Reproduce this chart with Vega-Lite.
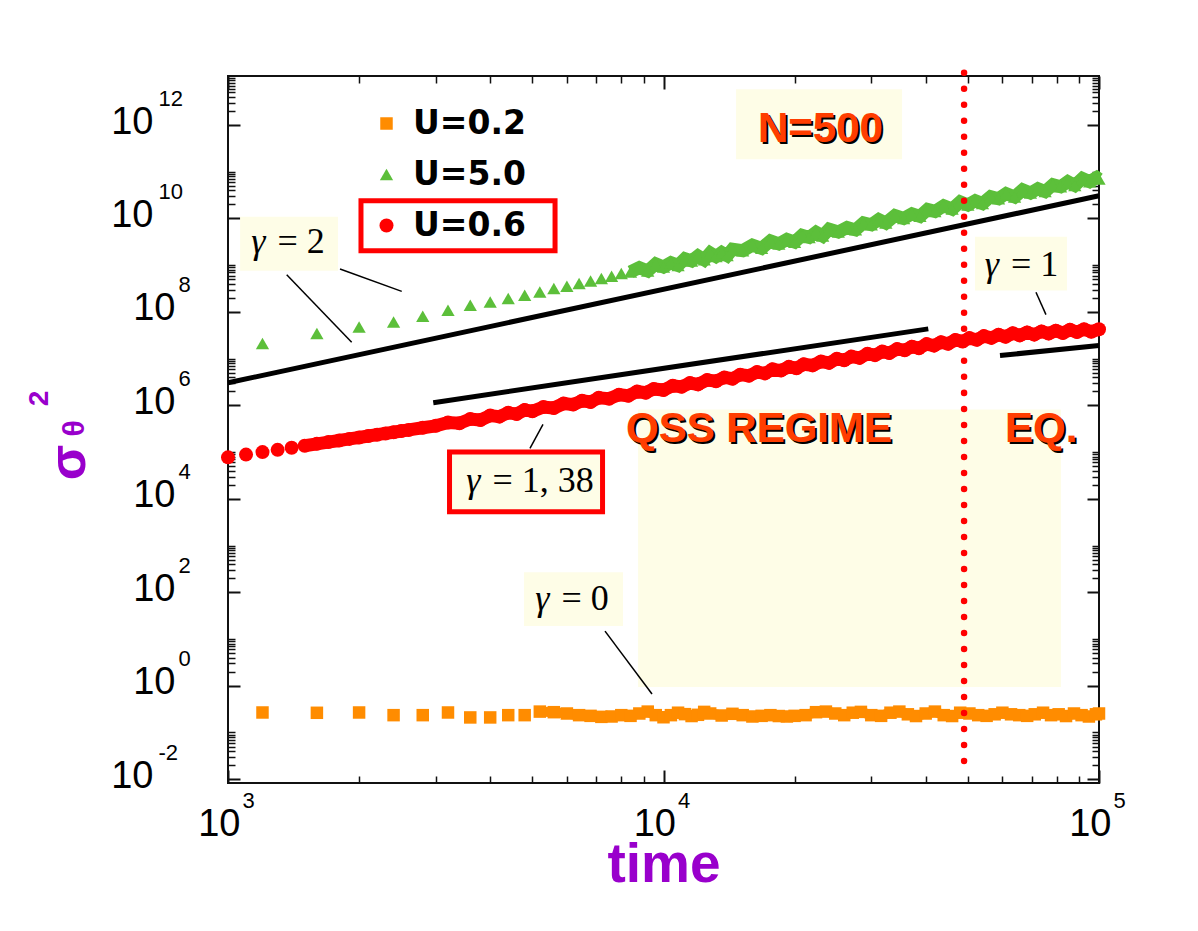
{
  "$schema": "https://vega.github.io/schema/vega-lite/v6.json",
  "width": 871,
  "height": 707,
  "autosize": {"type": "none"},
  "padding": {"left": 228, "top": 76, "right": 99, "bottom": 148},
  "background": "white",
  "config": {
    "view": {"stroke": "#111111", "strokeWidth": 2},
    "axis": {"grid": false, "domain": false, "labelFont": "Liberation Sans", "titleFont": "Liberation Sans", "labelColor": "#000000", "tickColor": "#111111", "labelFlush": false, "labelOverlap": false, "labelBound": false}
  },
  "resolve": {"axis": {"x": "independent", "y": "independent"}},
  "datasets": {
    "series": [
      {"s": "U=0.2", "t": 1200, "v": 0.268}, {"s": "U=0.2", "t": 1600, "v": 0.264}, {"s": "U=0.2", "t": 2000, "v": 0.268}, {"s": "U=0.2", "t": 2400, "v": 0.235}, {"s": "U=0.2", "t": 2800, "v": 0.235}, {"s": "U=0.2", "t": 3200, "v": 0.268}, {"s": "U=0.2", "t": 3600, "v": 0.21}, {"s": "U=0.2", "t": 4000, "v": 0.21}, {"s": "U=0.2", "t": 4400, "v": 0.235}, {"s": "U=0.2", "t": 4800, "v": 0.235},
      {"s": "U=0.2", "t": 5200, "v": 0.28}, {"s": "U=0.2", "t": 5600, "v": 0.272}, {"s": "U=0.2", "t": 6000, "v": 0.255}, {"s": "U=0.2", "t": 6400, "v": 0.235}, {"s": "U=0.2", "t": 6800, "v": 0.227}, {"s": "U=0.2", "t": 7200, "v": 0.216}, {"s": "U=0.2", "t": 7600, "v": 0.22}, {"s": "U=0.2", "t": 8000, "v": 0.235}, {"s": "U=0.2", "t": 8400, "v": 0.227}, {"s": "U=0.2", "t": 8800, "v": 0.255}, {"s": "U=0.2", "t": 9200, "v": 0.28}, {"s": "U=0.2", "t": 9600, "v": 0.235}, {"s": "U=0.2", "t": 10000, "v": 0.212}, {"s": "U=0.2", "t": 10400, "v": 0.235}, {"s": "U=0.2", "t": 10800, "v": 0.265}, {"s": "U=0.2", "t": 11200, "v": 0.247}, {"s": "U=0.2", "t": 11600, "v": 0.225}, {"s": "U=0.2", "t": 12000, "v": 0.239}, {"s": "U=0.2", "t": 12400, "v": 0.276}, {"s": "U=0.2", "t": 12800, "v": 0.255}, {"s": "U=0.2", "t": 13600, "v": 0.231}, {"s": "U=0.2", "t": 14400, "v": 0.251}, {"s": "U=0.2", "t": 15200, "v": 0.235}, {"s": "U=0.2", "t": 16000, "v": 0.22}, {"s": "U=0.2", "t": 16800, "v": 0.227}, {"s": "U=0.2", "t": 17600, "v": 0.235}, {"s": "U=0.2", "t": 18400, "v": 0.225}, {"s": "U=0.2", "t": 19200, "v": 0.22}, {"s": "U=0.2", "t": 20000, "v": 0.227}, {"s": "U=0.2", "t": 21200, "v": 0.235}, {"s": "U=0.2", "t": 22400, "v": 0.272}, {"s": "U=0.2", "t": 23600, "v": 0.28}, {"s": "U=0.2", "t": 24800, "v": 0.255}, {"s": "U=0.2", "t": 26000, "v": 0.235}, {"s": "U=0.2", "t": 27200, "v": 0.265}, {"s": "U=0.2", "t": 28400, "v": 0.276}, {"s": "U=0.2", "t": 30000, "v": 0.235}, {"s": "U=0.2", "t": 31600, "v": 0.227}, {"s": "U=0.2", "t": 33200, "v": 0.265}, {"s": "U=0.2", "t": 34800, "v": 0.28}, {"s": "U=0.2", "t": 36400, "v": 0.245}, {"s": "U=0.2", "t": 38000, "v": 0.225}, {"s": "U=0.2", "t": 40000, "v": 0.255}, {"s": "U=0.2", "t": 42000, "v": 0.28}, {"s": "U=0.2", "t": 44000, "v": 0.235}, {"s": "U=0.2", "t": 46000, "v": 0.225}, {"s": "U=0.2", "t": 48000, "v": 0.265}, {"s": "U=0.2", "t": 50400, "v": 0.255}, {"s": "U=0.2", "t": 52800, "v": 0.235}, {"s": "U=0.2", "t": 55200, "v": 0.227}, {"s": "U=0.2", "t": 57600, "v": 0.245}, {"s": "U=0.2", "t": 60000, "v": 0.265}, {"s": "U=0.2", "t": 62800, "v": 0.245}, {"s": "U=0.2", "t": 65600, "v": 0.235}, {"s": "U=0.2", "t": 68400, "v": 0.227}, {"s": "U=0.2", "t": 71200, "v": 0.245}, {"s": "U=0.2", "t": 74400, "v": 0.265}, {"s": "U=0.2", "t": 77600, "v": 0.235}, {"s": "U=0.2", "t": 80800, "v": 0.245}, {"s": "U=0.2", "t": 84000, "v": 0.225}, {"s": "U=0.2", "t": 87600, "v": 0.255}, {"s": "U=0.2", "t": 91200, "v": 0.235}, {"s": "U=0.2", "t": 94800, "v": 0.22}, {"s": "U=0.2", "t": 98400, "v": 0.245}, {"s": "U=0.2", "t": 100000, "v": 0.255},
      {"s": "U=5.0", "t": 1200, "v": 2.10e7}, {"s": "U=5.0", "t": 1600, "v": 3.45e7}, {"s": "U=5.0", "t": 2000, "v": 4.78e7}, {"s": "U=5.0", "t": 2400, "v": 6.11e7}, {"s": "U=5.0", "t": 2800, "v": 8.09e7}, {"s": "U=5.0", "t": 3200, "v": 1.09e8}, {"s": "U=5.0", "t": 3600, "v": 1.39e8}, {"s": "U=5.0", "t": 4000, "v": 1.64e8}, {"s": "U=5.0", "t": 4400, "v": 1.94e8}, {"s": "U=5.0", "t": 4800, "v": 2.28e8}, {"s": "U=5.0", "t": 5200, "v": 2.68e8}, {"s": "U=5.0", "t": 5600, "v": 3.17e8}, {"s": "U=5.0", "t": 6000, "v": 3.55e8}, {"s": "U=5.0", "t": 6400, "v": 4.06e8}, {"s": "U=5.0", "t": 6800, "v": 4.61e8}, {"s": "U=5.0", "t": 7200, "v": 5.19e8}, {"s": "U=5.0", "t": 7600, "v": 5.81e8}, {"s": "U=5.0", "t": 8000, "v": 6.64e8}, {"s": "U=5.0", "t": 8400, "v": 7.19e8},
      {"s": "U=5.0", "t": 8800, "v": 8.87e8}, {"s": "U=5.0", "t": 9200, "v": 7.51e8}, {"s": "U=5.0", "t": 9600, "v": 1.073e9}, {"s": "U=5.0", "t": 10000, "v": 9.17e8}, {"s": "U=5.0", "t": 10400, "v": 1.136e9}, {"s": "U=5.0", "t": 10800, "v": 9.9e8}, {"s": "U=5.0", "t": 11200, "v": 1.378e9}, {"s": "U=5.0", "t": 11600, "v": 1.236e9}, {"s": "U=5.0", "t": 12000, "v": 1.582e9}, {"s": "U=5.0", "t": 12400, "v": 1.31e9}, {"s": "U=5.0", "t": 12800, "v": 1.83e9}, {"s": "U=5.0", "t": 13200, "v": 1.538e9}, {"s": "U=5.0", "t": 13600, "v": 1.873e9}, {"s": "U=5.0", "t": 14000, "v": 1.605e9}, {"s": "U=5.0", "t": 14400, "v": 2.204e9}, {"s": "U=5.0", "t": 15200, "v": 2.043e9}, {"s": "U=5.0", "t": 16000, "v": 2.704e9}, {"s": "U=5.0", "t": 16800, "v": 2.304e9}, {"s": "U=5.0", "t": 17600, "v": 3.315e9}, {"s": "U=5.0", "t": 18400, "v": 2.856e9}, {"s": "U=5.0", "t": 19200, "v": 3.558e9}, {"s": "U=5.0", "t": 20000, "v": 3.118e9}, {"s": "U=5.0", "t": 20800, "v": 4.368e9}, {"s": "U=5.0", "t": 21600, "v": 3.937e9}, {"s": "U=5.0", "t": 22400, "v": 5.059e9}, {"s": "U=5.0", "t": 23200, "v": 4.212e9}, {"s": "U=5.0", "t": 24000, "v": 5.908e9}, {"s": "U=5.0", "t": 25200, "v": 5.126e9}, {"s": "U=5.0", "t": 26400, "v": 6.446e9}, {"s": "U=5.0", "t": 27600, "v": 5.708e9}, {"s": "U=5.0", "t": 28800, "v": 8.076e9}, {"s": "U=5.0", "t": 30000, "v": 7.345e9}, {"s": "U=5.0", "t": 31200, "v": 9.529e9}, {"s": "U=5.0", "t": 32400, "v": 7.989e9}, {"s": "U=5.0", "t": 34000, "v": 1.158e10}, {"s": "U=5.0", "t": 35600, "v": 1.004e10}, {"s": "U=5.0", "t": 37200, "v": 1.26e10}, {"s": "U=5.0", "t": 38800, "v": 1.11e10}, {"s": "U=5.0", "t": 40400, "v": 1.568e10}, {"s": "U=5.0", "t": 42000, "v": 1.419e10}, {"s": "U=5.0", "t": 44000, "v": 1.867e10}, {"s": "U=5.0", "t": 46000, "v": 1.587e10}, {"s": "U=5.0", "t": 48000, "v": 2.272e10}, {"s": "U=5.0", "t": 50000, "v": 1.944e10}, {"s": "U=5.0", "t": 52000, "v": 2.401e10}, {"s": "U=5.0", "t": 54000, "v": 2.087e10}, {"s": "U=5.0", "t": 56400, "v": 2.934e10}, {"s": "U=5.0", "t": 58800, "v": 2.654e10}, {"s": "U=5.0", "t": 61200, "v": 3.427e10}, {"s": "U=5.0", "t": 64000, "v": 2.887e10}, {"s": "U=5.0", "t": 66800, "v": 4.109e10}, {"s": "U=5.0", "t": 69600, "v": 3.506e10}, {"s": "U=5.0", "t": 72400, "v": 4.339e10}, {"s": "U=5.0", "t": 75200, "v": 3.763e10}, {"s": "U=5.0", "t": 78400, "v": 5.279e10}, {"s": "U=5.0", "t": 81600, "v": 4.766e10}, {"s": "U=5.0", "t": 84800, "v": 6.125e10}, {"s": "U=5.0", "t": 88000, "v": 5.095e10}, {"s": "U=5.0", "t": 91600, "v": 7.215e10}, {"s": "U=5.0", "t": 95200, "v": 6.136e10}, {"s": "U=5.0", "t": 98800, "v": 7.558e10}, {"s": "U=5.0", "t": 100000, "v": 6.989e10},
      {"s": "U=0.6", "t": 1000, "v": 7.73e4}, {"s": "U=0.6", "t": 1100, "v": 8.85e4}, {"s": "U=0.6", "t": 1200, "v": 1.0e5}, {"s": "U=0.6", "t": 1300, "v": 1.119e5}, {"s": "U=0.6", "t": 1400, "v": 1.245e5}, {"s": "U=0.6", "t": 1500, "v": 1.371e5}, {"s": "U=0.6", "t": 1600, "v": 1.503e5}, {"s": "U=0.6", "t": 1700, "v": 1.637e5}, {"s": "U=0.6", "t": 1800, "v": 1.775e5}, {"s": "U=0.6", "t": 1900, "v": 1.919e5}, {"s": "U=0.6", "t": 2000, "v": 2.061e5}, {"s": "U=0.6", "t": 2100, "v": 2.208e5}, {"s": "U=0.6", "t": 2200, "v": 2.36e5}, {"s": "U=0.6", "t": 2300, "v": 2.512e5}, {"s": "U=0.6", "t": 2400, "v": 2.667e5}, {"s": "U=0.6", "t": 2500, "v": 2.825e5}, {"s": "U=0.6", "t": 2600, "v": 2.985e5}, {"s": "U=0.6", "t": 2800, "v": 3.319e5}, {"s": "U=0.6", "t": 3000, "v": 3.656e5},
      {"s": "U=0.6", "t": 3200, "v": 4.309e5}, {"s": "U=0.6", "t": 3400, "v": 4.159e5}, {"s": "U=0.6", "t": 3600, "v": 5.109e5}, {"s": "U=0.6", "t": 3800, "v": 4.871e5}, {"s": "U=0.6", "t": 4000, "v": 6.06e5}, {"s": "U=0.6", "t": 4200, "v": 5.742e5}, {"s": "U=0.6", "t": 4400, "v": 6.955e5}, {"s": "U=0.6", "t": 4600, "v": 6.524e5}, {"s": "U=0.6", "t": 4800, "v": 8.006e5}, {"s": "U=0.6", "t": 5000, "v": 7.484e5}, {"s": "U=0.6", "t": 5300, "v": 9.233e5}, {"s": "U=0.6", "t": 5600, "v": 8.798e5}, {"s": "U=0.6", "t": 5900, "v": 1.098e6}, {"s": "U=0.6", "t": 6200, "v": 1.04e6}, {"s": "U=0.6", "t": 6500, "v": 1.26e6}, {"s": "U=0.6", "t": 6800, "v": 1.185e6}, {"s": "U=0.6", "t": 7100, "v": 1.456e6}, {"s": "U=0.6", "t": 7500, "v": 1.39e6}, {"s": "U=0.6", "t": 7900, "v": 1.696e6}, {"s": "U=0.6", "t": 8300, "v": 1.605e6}, {"s": "U=0.6", "t": 8700, "v": 1.985e6}, {"s": "U=0.6", "t": 9100, "v": 1.867e6}, {"s": "U=0.6", "t": 9500, "v": 2.248e6}, {"s": "U=0.6", "t": 10000, "v": 2.133e6}, {"s": "U=0.6", "t": 10500, "v": 2.644e6}, {"s": "U=0.6", "t": 11000, "v": 2.496e6}, {"s": "U=0.6", "t": 11500, "v": 3.008e6}, {"s": "U=0.6", "t": 12000, "v": 2.815e6}, {"s": "U=0.6", "t": 12600, "v": 3.495e6}, {"s": "U=0.6", "t": 13200, "v": 3.298e6}, {"s": "U=0.6", "t": 13800, "v": 3.975e6}, {"s": "U=0.6", "t": 14400, "v": 3.72e6}, {"s": "U=0.6", "t": 15000, "v": 4.554e6}, {"s": "U=0.6", "t": 15700, "v": 4.297e6}, {"s": "U=0.6", "t": 16400, "v": 5.168e6}, {"s": "U=0.6", "t": 17100, "v": 4.836e6}, {"s": "U=0.6", "t": 17800, "v": 5.917e6}, {"s": "U=0.6", "t": 18600, "v": 5.555e6}, {"s": "U=0.6", "t": 19400, "v": 6.689e6}, {"s": "U=0.6", "t": 20200, "v": 6.24e6}, {"s": "U=0.6", "t": 21000, "v": 7.608e6}, {"s": "U=0.6", "t": 22000, "v": 7.182e6}, {"s": "U=0.6", "t": 23000, "v": 8.671e6}, {"s": "U=0.6", "t": 24000, "v": 8.119e6}, {"s": "U=0.6", "t": 25000, "v": 9.94e6}, {"s": "U=0.6", "t": 26000, "v": 9.268e6}, {"s": "U=0.6", "t": 27000, "v": 1.107e7}, {"s": "U=0.6", "t": 28200, "v": 1.039e7}, {"s": "U=0.6", "t": 29400, "v": 1.272e7}, {"s": "U=0.6", "t": 30600, "v": 1.189e7}, {"s": "U=0.6", "t": 31800, "v": 1.42e7}, {"s": "U=0.6", "t": 33000, "v": 1.32e7}, {"s": "U=0.6", "t": 34400, "v": 1.616e7}, {"s": "U=0.6", "t": 35800, "v": 1.511e7}, {"s": "U=0.6", "t": 37200, "v": 1.804e7}, {"s": "U=0.6", "t": 38600, "v": 1.677e7}, {"s": "U=0.6", "t": 40200, "v": 2.048e7}, {"s": "U=0.6", "t": 41800, "v": 1.897e7}, {"s": "U=0.6", "t": 43400, "v": 2.25e7}, {"s": "U=0.6", "t": 45000, "v": 2.078e7}, {"s": "U=0.6", "t": 46800, "v": 2.52e7}, {"s": "U=0.6", "t": 48600, "v": 2.334e7}, {"s": "U=0.6", "t": 50400, "v": 2.756e7}, {"s": "U=0.6", "t": 52400, "v": 2.532e7}, {"s": "U=0.6", "t": 54400, "v": 3.037e7}, {"s": "U=0.6", "t": 56600, "v": 2.781e7}, {"s": "U=0.6", "t": 58800, "v": 3.253e7}, {"s": "U=0.6", "t": 61000, "v": 2.948e7}, {"s": "U=0.6", "t": 63400, "v": 3.495e7}, {"s": "U=0.6", "t": 65800, "v": 3.149e7}, {"s": "U=0.6", "t": 68400, "v": 3.634e7}, {"s": "U=0.6", "t": 71000, "v": 3.262e7}, {"s": "U=0.6", "t": 73800, "v": 3.832e7}, {"s": "U=0.6", "t": 76600, "v": 3.437e7}, {"s": "U=0.6", "t": 79600, "v": 3.957e7}, {"s": "U=0.6", "t": 82600, "v": 3.536e7}, {"s": "U=0.6", "t": 85800, "v": 4.144e7}, {"s": "U=0.6", "t": 89000, "v": 3.708e7}, {"s": "U=0.6", "t": 92400, "v": 4.25e7}, {"s": "U=0.6", "t": 96000, "v": 3.78e7}, {"s": "U=0.6", "t": 100000, "v": 4.257e7}
    ],
    "fits": [
      {"fit": "γ=2", "t": 1000, "v": 3.05e6}, {"fit": "γ=2", "t": 100000, "v": 3.06e10},
      {"fit": "γ=1.38", "t": 2960, "v": 1.14e6}, {"fit": "γ=1.38", "t": 40550, "v": 4.34e7},
      {"fit": "γ=1", "t": 59250, "v": 1.17e7}, {"fit": "γ=1", "t": 100000, "v": 1.91e7}
    ],
    "leaders": [
      {"id": "a", "t": 1364, "v": 6.28e8}, {"id": "a", "t": 1923, "v": 2.24e7},
      {"id": "b", "t": 1808, "v": 8.31e8}, {"id": "b", "t": 2506, "v": 2.76e8},
      {"id": "c", "t": 71660, "v": 2.63e8}, {"id": "c", "t": 75550, "v": 8.77e7},
      {"id": "d", "t": 5288, "v": 3.92e5}, {"id": "d", "t": 4936, "v": 1.2e5},
      {"id": "e", "t": 7340, "v": 14.8}, {"id": "e", "t": 9410, "v": 0.667}
    ],
    "panels": [
      {"t": 14675, "t2": 35300, "v": 5.83e12, "v2": 1.86e11},
      {"t": 1066, "t2": 1789, "v": 1.09e10, "v2": 7.64e8},
      {"t": 51920, "t2": 84450, "v": 4.07e9, "v2": 2.86e8},
      {"t": 3184, "t2": 7340, "v": 1.15e5, "v2": 4.68e3},
      {"t": 4783, "t2": 8072, "v": 269, "v2": 18.9},
      {"t": 8742, "t2": 81770, "v": 8.18e5, "v2": 0.94}
    ],
    "frames": [
      {"t": 3226, "t2": 7245, "v": 1.01e5, "v2": 5.28e3},
      {"t": 2020, "t2": 5636, "v": 2.39e10, "v2": 2.05e9}
    ],
    "gammas": [
      {"t": 1259, "v": 3.18e9, "rhs": "= 2"},
      {"t": 60840, "v": 1.03e9, "rhs": "= 1"},
      {"t": 3923, "v": 2.37e4, "rhs": "= 1, 38"},
      {"t": 5649, "v": 71.3, "rhs": "= 0"}
    ],
    "regimes": [
      {"label": "N=500", "t": 16480, "v": 4.43e11},
      {"label": "QSS REGIME", "t": 8200, "v": 1.64e5},
      {"label": "EQ.", "t": 60840, "v": 1.64e5}
    ],
    "boundary": [{"t": 49000, "top": 1.32e13, "bottom": 0.012}]
  },
  "layer": [
    {
      "data": {"name": "panels"},
      "mark": {"type": "rect", "fill": "#fefde7"},
      "encoding": {
        "x": {"field": "t", "type": "quantitative", "scale": {"type": "log", "domain": [1000, 100000], "nice": false},
          "axis": {"orient": "bottom", "values": [1000, 10000, 100000], "labelExpr": "'10'", "ticks": false, "labelFontSize": 38, "labelAlign": "right", "labelOffset": 12, "labelPadding": 22, "labelBaseline": "top",
            "title": "time", "titleFontSize": 55, "titleFontWeight": "bold", "titleColor": "#9900cc", "titleY": 98, "titleBaseline": "alphabetic"}},
        "x2": {"field": "t2"},
        "y": {"field": "v", "type": "quantitative", "scale": {"type": "log", "domain": [0.0083, 1.12e13], "nice": false},
          "axis": {"orient": "left", "values": [0.01, 1, 100, 10000, 1000000, 100000000, 10000000000, 1000000000000], "labelExpr": "'10'", "ticks": false, "labelFontSize": 38, "labelAlign": "right", "labelBaseline": "middle", "labelOffset": -3,
            "labelPadding": {"condition": {"test": "datum.value >= 1e10 || datum.value < 0.1", "value": 75}, "value": 53},
            "title": "σ", "titleFontSize": 52, "titleFontWeight": "bold", "titleColor": "#9900cc", "titleAngle": -90, "titleX": -160, "titleY": 386, "titleBaseline": "middle", "titleAlign": "center"}},
        "y2": {"field": "v2"}
      }
    },
    {
      "data": {"name": "fits"},
      "mark": {"type": "line", "color": "#000000", "strokeWidth": 5},
      "encoding": {
        "x": {"field": "t", "type": "quantitative", "scale": {"type": "log", "domain": [1000, 100000], "nice": false},
          "axis": {"orient": "bottom", "values": [1000, 10000, 100000], "labels": false, "tickSize": -13, "tickWidth": 2, "title": null}},
        "y": {"field": "v", "type": "quantitative", "scale": {"type": "log", "domain": [0.0083, 1.12e13], "nice": false},
          "axis": {"orient": "left", "values": [0.01, 1, 100, 10000, 1000000, 100000000, 10000000000, 1000000000000], "labels": false, "tickSize": -12, "tickWidth": 2,
            "title": "θ", "titleFontSize": 30, "titleFontWeight": "bold", "titleColor": "#9900cc", "titleAngle": -90, "titleX": -154, "titleY": 352, "titleBaseline": "middle", "titleAlign": "center"}},
        "detail": {"field": "fit"}
      }
    },
    {
      "data": {"name": "leaders"},
      "mark": {"type": "line", "color": "#000000", "strokeWidth": 1.5},
      "encoding": {
        "x": {"field": "t", "type": "quantitative", "scale": {"type": "log", "domain": [1000, 100000], "nice": false},
          "axis": {"orient": "bottom", "values": [2000, 3000, 4000, 5000, 6000, 7000, 8000, 9000, 20000, 30000, 40000, 50000, 60000, 70000, 80000, 90000], "labels": false, "tickSize": -7, "tickWidth": 1.5, "title": null}},
        "y": {"field": "v", "type": "quantitative", "scale": {"type": "log", "domain": [0.0083, 1.12e13], "nice": false},
          "axis": {"orient": "left", "values": [0.02, 0.03, 0.04, 0.05, 0.06, 0.07, 0.08, 0.09, 0.1, 2, 3, 4, 5, 6, 7, 8, 9, 10, 200, 300, 400, 500, 600, 700, 800, 900, 1000, 20000, 30000, 40000, 50000, 60000, 70000, 80000, 90000, 100000, 2e6, 3e6, 4e6, 5e6, 6e6, 7e6, 8e6, 9e6, 1e7, 2e8, 3e8, 4e8, 5e8, 6e8, 7e8, 8e8, 9e8, 1e9, 2e10, 3e10, 4e10, 5e10, 6e10, 7e10, 8e10, 9e10, 1e11, 2e12, 3e12, 4e12, 5e12, 6e12, 7e12, 8e12, 9e12, 1e13], "labels": false, "tickSize": -7, "tickWidth": 1.5, "title": null}},
        "detail": {"field": "id"}
      }
    },
    {
      "data": {"name": "frames"},
      "mark": {"type": "rect", "fill": null, "fillOpacity": 0, "stroke": "#ff0000", "strokeWidth": 5},
      "encoding": {
        "x": {"field": "t", "type": "quantitative", "scale": {"type": "log", "domain": [1000, 100000], "nice": false},
          "axis": {"orient": "bottom", "values": [1000, 10000, 100000], "labelExpr": "'' + round(log(datum.value) / LN10)", "ticks": false, "labelFontSize": 22, "labelAlign": "left", "labelOffset": 14, "labelPadding": 7, "labelBaseline": "top", "title": null}},
        "x2": {"field": "t2"},
        "y": {"field": "v", "type": "quantitative", "scale": {"type": "log", "domain": [0.0083, 1.12e13], "nice": false},
          "axis": {"orient": "left", "values": [0.01, 1, 100, 10000, 1000000, 100000000, 10000000000, 1000000000000], "labelExpr": "'' + round(log(datum.value) / LN10)", "ticks": false, "labelFontSize": 22, "labelAlign": "left", "labelBaseline": "middle", "labelOffset": -27,
            "labelPadding": {"condition": {"test": "datum.value >= 1e10 || datum.value < 0.1", "value": 70}, "value": 50},
            "title": "2", "titleFontSize": 28, "titleFontWeight": "bold", "titleColor": "#9900cc", "titleAngle": -90, "titleX": -189, "titleY": 322, "titleBaseline": "middle", "titleAlign": "center"}},
        "y2": {"field": "v2"}
      }
    },
    {
      "data": {"name": "series"},
      "transform": [{"filter": "datum.s == 'U=0.2' && datum.t >= 5200"}],
      "mark": {"type": "line", "color": "#ff8c00", "strokeWidth": 10},
      "encoding": {
        "x": {"field": "t", "type": "quantitative", "scale": {"type": "log", "domain": [1000, 100000], "nice": false}, "axis": null},
        "y": {"field": "v", "type": "quantitative", "scale": {"type": "log", "domain": [0.0083, 1.12e13], "nice": false}, "axis": null}
      }
    },
    {
      "data": {"name": "series"},
      "transform": [{"filter": "datum.s == 'U=5.0' && datum.t >= 8400"}],
      "mark": {"type": "line", "color": "#5cbf3a", "strokeWidth": 13},
      "encoding": {
        "x": {"field": "t", "type": "quantitative", "scale": {"type": "log", "domain": [1000, 100000], "nice": false}, "axis": null},
        "y": {"field": "v", "type": "quantitative", "scale": {"type": "log", "domain": [0.0083, 1.12e13], "nice": false}, "axis": null}
      }
    },
    {
      "data": {"name": "series"},
      "transform": [{"filter": "datum.s == 'U=0.6' && datum.t >= 1500"}],
      "mark": {"type": "line", "color": "#ff0000", "strokeWidth": 13},
      "encoding": {
        "x": {"field": "t", "type": "quantitative", "scale": {"type": "log", "domain": [1000, 100000], "nice": false}, "axis": null},
        "y": {"field": "v", "type": "quantitative", "scale": {"type": "log", "domain": [0.0083, 1.12e13], "nice": false}, "axis": null}
      }
    },
    {
      "data": {"name": "series"},
      "mark": {"type": "point", "filled": true, "opacity": 1, "strokeWidth": 0},
      "encoding": {
        "x": {"field": "t", "type": "quantitative", "scale": {"type": "log", "domain": [1000, 100000], "nice": false},
          "axis": {"orient": "top", "values": [1000, 10000, 100000], "labels": false, "tickSize": -13, "tickWidth": 2, "title": null}},
        "y": {"field": "v", "type": "quantitative", "scale": {"type": "log", "domain": [0.0083, 1.12e13], "nice": false},
          "axis": {"orient": "right", "values": [0.01, 1, 100, 10000, 1000000, 100000000, 10000000000, 1000000000000], "labels": false, "tickSize": -12, "tickWidth": 2, "title": null}},
        "color": {"field": "s", "type": "nominal", "scale": {"domain": ["U=0.2", "U=5.0", "U=0.6"], "range": ["#ff8c00", "#5cbf3a", "#ff0000"]},
          "legend": {"orient": "none", "legendX": 142, "legendY": 31, "title": null, "labelFontSize": 33, "labelFontWeight": "bold", "labelFont": "DejaVu Sans", "labelColor": "#000000", "rowPadding": 17, "labelOffset": 10, "padding": 0, "symbolStrokeWidth": 0}},
        "shape": {"field": "s", "type": "nominal", "scale": {"domain": ["U=0.2", "U=5.0", "U=0.6"], "range": ["square", "triangle-up", "circle"]},
          "legend": {"orient": "none", "legendX": 142, "legendY": 31, "title": null, "labelFontSize": 33, "labelFontWeight": "bold", "labelFont": "DejaVu Sans", "labelColor": "#000000", "rowPadding": 17, "labelOffset": 10, "padding": 0, "symbolStrokeWidth": 0}},
        "size": {"field": "s", "type": "nominal", "scale": {"domain": ["U=0.2", "U=5.0", "U=0.6"], "range": [156, 196, 215]},
          "legend": {"orient": "none", "legendX": 142, "legendY": 31, "title": null, "labelFontSize": 33, "labelFontWeight": "bold", "labelFont": "DejaVu Sans", "labelColor": "#000000", "rowPadding": 17, "labelOffset": 10, "padding": 0, "symbolStrokeWidth": 0}}
      }
    },
    {
      "data": {"name": "boundary"},
      "mark": {"type": "rule", "color": "#ff0000", "strokeWidth": 6.5, "strokeDash": [0.01, 16], "strokeCap": "round"},
      "encoding": {
        "x": {"field": "t", "type": "quantitative", "scale": {"type": "log", "domain": [1000, 100000], "nice": false},
          "axis": {"orient": "top", "values": [2000, 3000, 4000, 5000, 6000, 7000, 8000, 9000, 20000, 30000, 40000, 50000, 60000, 70000, 80000, 90000], "labels": false, "tickSize": -7, "tickWidth": 1.5, "title": null}},
        "y": {"field": "top", "type": "quantitative", "scale": {"type": "log", "domain": [0.0083, 1.12e13], "nice": false},
          "axis": {"orient": "right", "values": [0.02, 0.03, 0.04, 0.05, 0.06, 0.07, 0.08, 0.09, 0.1, 2, 3, 4, 5, 6, 7, 8, 9, 10, 200, 300, 400, 500, 600, 700, 800, 900, 1000, 20000, 30000, 40000, 50000, 60000, 70000, 80000, 90000, 100000, 2e6, 3e6, 4e6, 5e6, 6e6, 7e6, 8e6, 9e6, 1e7, 2e8, 3e8, 4e8, 5e8, 6e8, 7e8, 8e8, 9e8, 1e9, 2e10, 3e10, 4e10, 5e10, 6e10, 7e10, 8e10, 9e10, 1e11, 2e12, 3e12, 4e12, 5e12, 6e12, 7e12, 8e12, 9e12, 1e13], "labels": false, "tickSize": -7, "tickWidth": 1.5, "title": null}},
        "y2": {"field": "bottom"}
      }
    },
    {
      "data": {"name": "gammas"},
      "mark": {"type": "text", "text": "γ", "font": "Liberation Serif", "fontStyle": "italic", "fontSize": 36, "align": "right", "baseline": "middle", "dx": -6, "color": "#000000"},
      "encoding": {
        "x": {"field": "t", "type": "quantitative", "scale": {"type": "log", "domain": [1000, 100000], "nice": false}, "axis": null},
        "y": {"field": "v", "type": "quantitative", "scale": {"type": "log", "domain": [0.0083, 1.12e13], "nice": false}, "axis": null}
      }
    },
    {
      "data": {"name": "gammas"},
      "mark": {"type": "text", "font": "Liberation Serif", "fontSize": 36, "align": "left", "baseline": "middle", "dx": 6, "color": "#000000"},
      "encoding": {
        "x": {"field": "t", "type": "quantitative", "scale": {"type": "log", "domain": [1000, 100000], "nice": false}, "axis": null},
        "y": {"field": "v", "type": "quantitative", "scale": {"type": "log", "domain": [0.0083, 1.12e13], "nice": false}, "axis": null},
        "text": {"field": "rhs"}
      }
    },
    {
      "data": {"name": "regimes"},
      "mark": {"type": "text", "font": "Liberation Sans", "fontWeight": "bold", "fontSize": 42, "align": "left", "baseline": "alphabetic", "dx": 2, "dy": 2, "color": "#000000"},
      "encoding": {
        "x": {"field": "t", "type": "quantitative", "scale": {"type": "log", "domain": [1000, 100000], "nice": false}, "axis": null},
        "y": {"field": "v", "type": "quantitative", "scale": {"type": "log", "domain": [0.0083, 1.12e13], "nice": false}, "axis": null},
        "text": {"field": "label"}
      }
    },
    {
      "data": {"name": "regimes"},
      "mark": {"type": "text", "font": "Liberation Sans", "fontWeight": "bold", "fontSize": 42, "align": "left", "baseline": "alphabetic", "color": "#ff3d00"},
      "encoding": {
        "x": {"field": "t", "type": "quantitative", "scale": {"type": "log", "domain": [1000, 100000], "nice": false}, "axis": null},
        "y": {"field": "v", "type": "quantitative", "scale": {"type": "log", "domain": [0.0083, 1.12e13], "nice": false}, "axis": null},
        "text": {"field": "label"}
      }
    }
  ]
}
